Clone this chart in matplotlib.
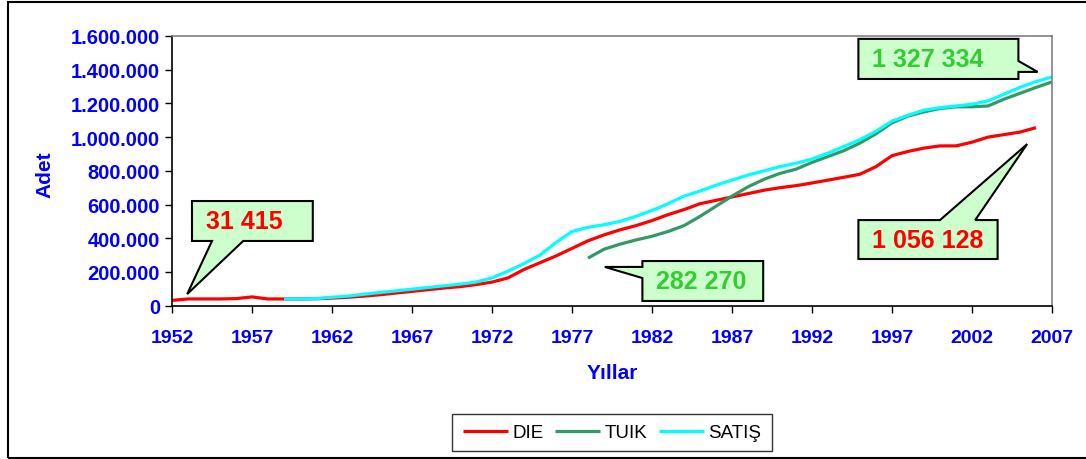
import numpy as np
import matplotlib.pyplot as plt
from matplotlib.patches import Polygon, Rectangle
from matplotlib.ticker import FuncFormatter

plt.rcParams['font.family'] = ['Liberation Sans', 'DejaVu Sans']

# yillik arac sayilari (bin adet)
yil_die = list(range(1952, 2007))
die = [31.415, 40, 40, 40, 42, 52, 40, 40, 40, 41,
       45, 50, 57, 65, 75, 85, 95, 105, 113, 125,
       140, 165, 215, 255, 295, 340, 385, 420, 450, 475,
       505, 540, 570, 605, 625, 645, 665, 685, 700, 712,
       728, 745, 762, 780, 825, 890, 915, 935, 948, 948,
       970, 1000, 1015, 1030, 1056.128]

yil_tuik = list(range(1978, 2008))
tuik = [282.27, 335, 365, 390, 412, 440, 475, 530, 590, 650,
        705, 750, 785, 810, 850, 885, 920, 965, 1020, 1085,
        1125, 1150, 1170, 1180, 1180, 1185, 1225, 1260, 1295, 1327.334]

yil_satis = list(range(1959, 2008))
satis = [40, 40, 42, 50, 57, 68, 78, 88, 98, 108,
         118, 128, 140, 165, 205, 250, 300, 375, 440, 465,
         480, 500, 530, 565, 605, 650, 680, 715, 745, 775,
         800, 825, 845, 870, 905, 945, 985, 1035, 1095, 1130,
         1160, 1175, 1185, 1195, 1215, 1255, 1295, 1330, 1357]

seriler = ["DIE", "TUIK", "SATIŞ"]
renkler = ["#FF0000", "#339966", "#00FFFF"]

# balon etiketler: metin, renk, kutu (x0, x1, y0, y1), ok tarafi, ok tabani, ok ucu
balonlar = [
    ("31 415", "#FF0000", (1953.25, 1960.8, 384, 621), "bottom", (1954.5, 1956.45), (1952.95, 69)),
    ("282 270", "#33CC33", (1981.4, 1988.95, 28, 265), "left", (230, 164), (1979.05, 230)),
    ("1 056 128", "#FF0000", (1994.9, 2003.6, 277, 508), "top", (2000.0, 2002.2), (2005.45, 959)),
    ("1 327 334", "#33CC33", (1994.9, 2004.9, 1345, 1583), "right", (1452, 1387), (2006.1, 1387)),
]

fig = plt.figure(figsize=(10.86, 4.6), dpi=100)
ax = fig.add_axes([172/1086, 1-306.7/460, 880/1086, 269.7/460])

veriler = [(yil_die, die), (yil_tuik, tuik), (yil_satis, satis)]
for (x, y), ad, renk in zip(veriler, seriler, renkler):
    ax.plot(x, np.array(y) * 1000, color=renk, lw=2.3, label=ad, solid_capstyle='butt')

ax.set_xlim(1952, 2007)
ax.set_ylim(0, 1600000)
ax.set_xticks(range(1952, 2008, 5))
ax.set_yticks(range(0, 1600001, 200000))
ax.yaxis.set_major_formatter(FuncFormatter(lambda v, p: f"{int(v):,}".replace(",", ".")))

for s in ["top", "right"]:
    ax.spines[s].set_color("#808080")
for s in ["left", "bottom"]:
    ax.spines[s].set_color("black")
for s in ax.spines.values():
    s.set_linewidth(1.2)

ax.tick_params(axis='both', direction='out', length=5, width=1, colors='black',
               labelcolor='#0000FF', labelsize=14.5)
ax.tick_params(axis='x', pad=12, labelsize=14)
for lbl in ax.get_xticklabels() + ax.get_yticklabels():
    lbl.set_fontweight('bold')

ax.set_ylabel("Adet", color='#0000FF', fontsize=15, fontweight='bold')
ax.set_xlabel("Yıllar", color='#0000FF', fontsize=15, fontweight='bold', labelpad=12)
ax.yaxis.set_label_coords(-0.134, 0.49)

for metin, renk, (x0, x1, y0, y1), taraf, taban, uc in balonlar:
    y0, y1 = y0 * 1000, y1 * 1000
    t = (uc[0], uc[1] * 1000)
    if taraf == "top":
        b0, b1 = taban
        pts = [(x0, y0), (x1, y0), (x1, y1), (b1, y1), t, (b0, y1), (x0, y1)]
    elif taraf == "bottom":
        b0, b1 = taban
        pts = [(x0, y0), (b0, y0), t, (b1, y0), (x1, y0), (x1, y1), (x0, y1)]
    elif taraf == "left":
        bh, bl = taban[0] * 1000, taban[1] * 1000
        pts = [(x0, y0), (x1, y0), (x1, y1), (x0, y1), (x0, bh), t, (x0, bl)]
    else:
        bh, bl = taban[0] * 1000, taban[1] * 1000
        pts = [(x0, y0), (x1, y0), (x1, bl), t, (x1, bh), (x1, y1), (x0, y1)]
    ax.add_patch(Polygon(pts, closed=True, facecolor='#CCFFCC', edgecolor='black',
                         lw=1.5, zorder=5, clip_on=False))
    ax.text(x0 + 0.85, (y0 + y1) / 2, metin, color=renk, fontsize=18, fontweight='bold',
            ha='left', va='center', zorder=6)

leg = fig.legend(loc='center', bbox_to_anchor=(612/1086, 1-433.5/460), ncol=3,
                 frameon=True, fancybox=False, fontsize=13.5, handlelength=2.4,
                 columnspacing=0.6, handletextpad=0.25, borderpad=0.55, borderaxespad=0)
leg.get_frame().set_edgecolor('black')
leg.get_frame().set_linewidth(1.0)

fig.add_artist(Rectangle((8/1086, 1-459/460), 1.1, 456/460, transform=fig.transFigure,
                         fill=False, edgecolor='black', lw=1.5))

fig.savefig("out.png", dpi=100)
